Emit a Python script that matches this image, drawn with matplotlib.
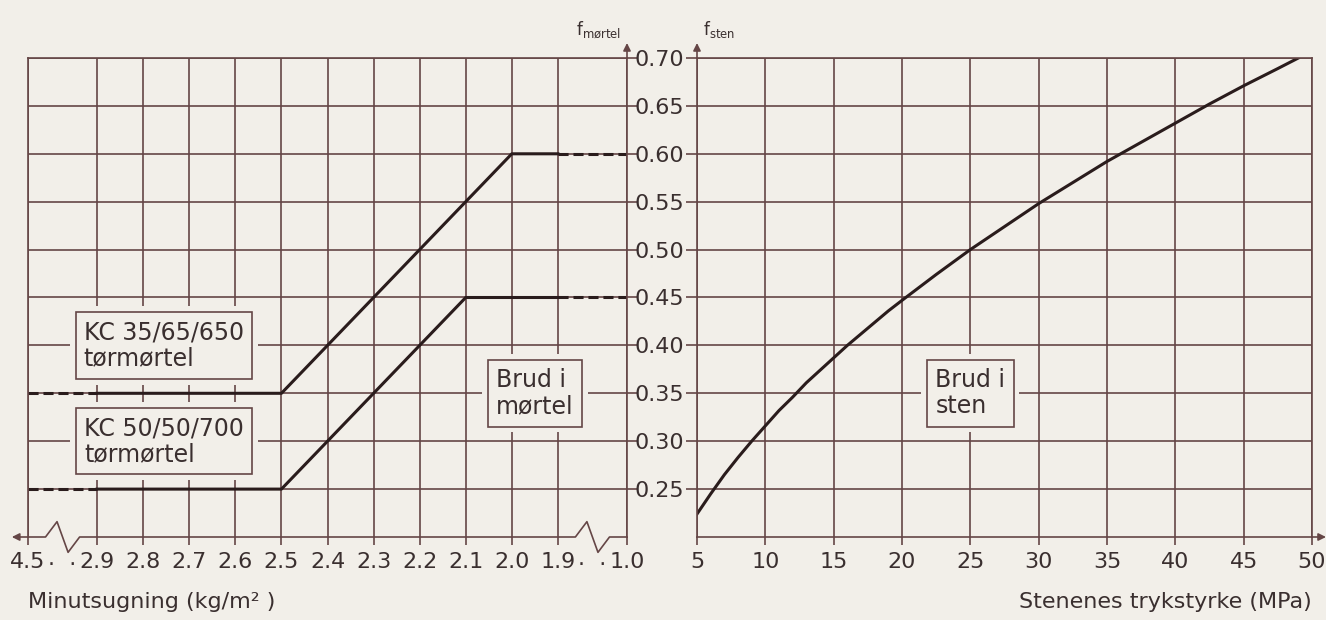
import matplotlib.pyplot as plt
import numpy as np

# Minutsugning axis (broken between 4.5-2.9 and 1.9-1.0)
suction_ticks = [4.5, 2.9, 2.8, 2.7, 2.6, 2.5, 2.4, 2.3, 2.2, 2.1, 2.0, 1.9, 1.0]
suction_labels = ['4.5', '2.9', '2.8', '2.7', '2.6', '2.5', '2.4',
                  '2.3', '2.2', '2.1', '2.0', '1.9', '1.0']

# f_mørtel curves (first and last segment drawn dashed)
kc35_x = [4.5, 2.9, 2.5, 2.0, 1.9, 1.0]
kc35_f = [0.35, 0.35, 0.35, 0.60, 0.60, 0.60]
kc50_x = [4.5, 2.9, 2.5, 2.1, 1.9, 1.0]
kc50_f = [0.25, 0.25, 0.25, 0.45, 0.45, 0.45]

# f_sten vs stone strength
strength = [5, 6, 7, 8, 9, 10, 11, 12, 13, 14, 15, 16, 17.5, 19, 20, 22.5,
            25, 27.5, 30, 32.5, 35, 37.5, 40, 42.5, 45, 47.5, 49]
f_sten = [0.224, 0.245, 0.265, 0.283, 0.300, 0.316, 0.332, 0.346, 0.361,
          0.374, 0.387, 0.400, 0.418, 0.436, 0.447, 0.474, 0.500, 0.524,
          0.548, 0.570, 0.592, 0.612, 0.632, 0.652, 0.671, 0.689, 0.700]
strength_ticks = [5, 10, 15, 20, 25, 30, 35, 40, 45, 50]
f_ticks = [0.25, 0.30, 0.35, 0.40, 0.45, 0.50, 0.55, 0.60, 0.65, 0.70]

BG = '#f2efe9'
GRID = '#654646'
LINE = '#2a1c1c'
TXT = '#3a2f2f'
W, H = 1326, 620

# piecewise scale for the broken axis
brk_vals = [1.0, 1.9, 2.9, 4.5]
brk_pos = [0.0, 1.5, 11.5, 13.0]


def fwd(x):
    return np.interp(x, brk_vals, brk_pos)


def inv(p):
    return np.interp(p, brk_pos, brk_vals)


def label_box(ax, x, y, s):
    # outer box hides the grid around the framed label
    ax.text(x, y, s, ha='center', va='center', multialignment='left',
            fontsize=17, color=TXT, linespacing=1.1, zorder=4,
            bbox=dict(boxstyle='square,pad=0.6', fc=BG, ec='none'))
    ax.text(x, y, s, ha='center', va='center', multialignment='left',
            fontsize=17, color=TXT, linespacing=1.1, zorder=5,
            bbox=dict(boxstyle='square,pad=0.35', fc=BG, ec=GRID, lw=1.2))


arrow = dict(arrowstyle='-|>', color=GRID, lw=1.2, shrinkA=0, shrinkB=0,
             mutation_scale=11)

fig = plt.figure(figsize=(W / 100, H / 100), dpi=100, facecolor=BG)
axL = fig.add_axes([28 / W, 83 / H, 599 / W, 479 / H])
axR = fig.add_axes([697 / W, 83 / H, 615 / W, 479 / H])

for ax in (axL, axR):
    ax.set_facecolor(BG)
    ax.set_ylim(0.2, 0.7)
    ax.set_yticks(f_ticks)
    ax.grid(True, color=GRID, lw=1.2)
    ax.set_axisbelow(True)
    for sp in ax.spines.values():
        sp.set_color(GRID)
        sp.set_linewidth(1.2)
    ax.tick_params(axis='x', direction='out', length=6, width=1.2, color=GRID,
                   pad=5, labelsize=16, labelcolor=TXT)

# ---- left panel: f_mørtel
axL.set_xscale('function', functions=(fwd, inv))
axL.set_xlim(4.5, 1.0)
axL.set_xticks(suction_ticks)
axL.set_xticklabels(suction_labels)
axL.yaxis.tick_right()
axL.tick_params(axis='y', direction='out', length=8, width=1.2, color=GRID,
                labelright=False)
axL.spines['bottom'].set_visible(False)

for xs, fs in ((kc35_x, kc35_f), (kc50_x, kc50_f)):
    axL.plot(xs[:2], fs[:2], color=LINE, lw=2.2, ls=(0, (3.3, 1.6)))
    axL.plot(xs[1:-1], fs[1:-1], color=LINE, lw=2.2)
    axL.plot(xs[-2:], fs[-2:], color=LINE, lw=2.2, ls=(0, (3.3, 1.6)))

# broken bottom axis with zigzags
a = 0.016
pos = [13.0, 12.62, 12.37, 12.13, 11.88, 1.12, 0.87, 0.63, 0.38, 0.0]
ys = [0.2, 0.2, 0.2 + a, 0.2 - a, 0.2, 0.2, 0.2 + a, 0.2 - a, 0.2, 0.2]
axL.plot(inv(np.array(pos)), ys, color=GRID, lw=1.2, clip_on=False)
for p in (12.25, 0.75):
    axL.annotate('.  .', xy=(inv(p), 0.2), xytext=(0, -22),
                 textcoords='offset pixels', ha='center', va='center',
                 fontsize=16, color=TXT)
axL.annotate('', xy=(-0.027, 0), xytext=(0, 0), xycoords='axes fraction',
             arrowprops=arrow)
axL.annotate('', xy=(1, 1 + 15 / 479), xytext=(1, 1), xycoords='axes fraction',
             arrowprops=arrow)
axL.annotate(r'$\mathregular{f_{mørtel}}$', xy=(1, 1), xycoords='axes fraction',
             xytext=(-6, 28), textcoords='offset pixels', ha='right',
             va='center', fontsize=12, color=TXT)
axL.set_xlabel('Minutsugning (kg/m² )', loc='left', fontsize=16, color=TXT,
               labelpad=14)

label_box(axL, 2.755, 0.40, 'KC 35/65/650\ntørmørtel')
label_box(axL, 2.755, 0.30, 'KC 50/50/700\ntørmørtel')
label_box(axL, 1.95, 0.35, 'Brud i\nmørtel')

# ---- right panel: f_sten
axR.plot(strength, f_sten, color=LINE, lw=2.2)
axR.set_xlim(5, 50)
axR.set_xticks(strength_ticks)
axR.set_yticklabels([f'{v:.2f}' for v in f_ticks])
axR.tick_params(axis='y', direction='out', length=8, width=1.2, color=GRID,
                pad=1, labelsize=16, labelcolor=TXT)
axR.annotate('', xy=(1 + 14 / 615, 0), xytext=(1, 0), xycoords='axes fraction',
             arrowprops=arrow)
axR.annotate('', xy=(0, 1 + 15 / 479), xytext=(0, 1), xycoords='axes fraction',
             arrowprops=arrow)
axR.annotate(r'$\mathregular{f_{sten}}$', xy=(0, 1), xycoords='axes fraction',
             xytext=(6, 28), textcoords='offset pixels', ha='left',
             va='center', fontsize=12, color=TXT)
axR.set_xlabel('Stenenes trykstyrke (MPa)', loc='right', fontsize=16,
               color=TXT, labelpad=14)

label_box(axR, 25, 0.35, 'Brud i\nsten')

fig.savefig('out.png', dpi=100, facecolor=BG)
